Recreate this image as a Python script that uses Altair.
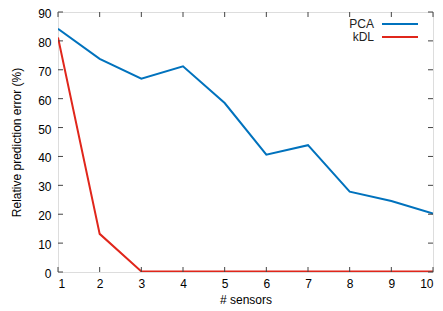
import altair as alt
import pandas as pd

sensors = [1, 2, 3, 4, 5, 6, 7, 8, 9, 10]
pca = [84.2, 73.8, 66.9, 71.2, 58.5, 40.6, 43.9, 27.8, 24.6, 20.2]
kdl = [81.2, 13.2, 0.2, 0.2, 0.2, 0.2, 0.2, 0.2, 0.2, 0.2]
series = ["PCA", "kDL"]
colors = ["#0072bd", "#e0261b"]
xticks = [1, 2, 3, 4, 5, 6, 7, 8, 9, 10]
yticks = [0, 10, 20, 30, 40, 50, 60, 70, 80, 90]

W, H = 375, 260
FONT = "Liberation Sans"

df = pd.DataFrame({
    "sensors": sensors * 2,
    "err": pca + kdl,
    "series": ["PCA"] * len(sensors) + ["kDL"] * len(sensors),
})

xs = alt.Scale(domain=[1, 10], nice=False)
ys = alt.Scale(domain=[0, 90], nice=False)
xax = alt.Axis(title="# sensors", values=xticks, tickSize=0, labelPadding=6,
               grid=False, domain=False, titlePadding=5, labelOverlap=False,
               titleFontWeight="normal", labelFontSize=12, titleFontSize=12)
yax = alt.Axis(title="Relative prediction error (%)", values=yticks, tickSize=0,
               labelPadding=7, grid=False, domain=False, titlePadding=14,
               labelOverlap=False, titleFontWeight="normal", labelOffset=1.5,
               labelFontSize=12, titleFontSize=12)

lines = alt.Chart(df).mark_line(strokeWidth=2, clip=True).encode(
    x=alt.X("sensors:Q", scale=xs, axis=xax),
    y=alt.Y("err:Q", scale=ys, axis=yax),
    color=alt.Color("series:N", scale=alt.Scale(domain=series, range=colors), legend=None),
)

xt = pd.DataFrame({"t": xticks})
yt = pd.DataFrame({"t": yticks})
tick_style = dict(color="#444", strokeWidth=1)
xb = alt.Chart(xt).mark_rule(**tick_style).encode(x=alt.X("t:Q", scale=xs, axis=xax), y=alt.value(H), y2=alt.value(H - 5))
xtop = alt.Chart(xt).mark_rule(**tick_style).encode(x=alt.X("t:Q", scale=xs, axis=xax), y=alt.value(0), y2=alt.value(5))
yl = alt.Chart(yt).mark_rule(**tick_style).encode(y=alt.Y("t:Q", scale=ys, axis=yax), x=alt.value(0), x2=alt.value(5))
yr = alt.Chart(yt).mark_rule(**tick_style).encode(y=alt.Y("t:Q", scale=ys, axis=yax), x=alt.value(W), x2=alt.value(W - 5))

legend_layers = []
for i, (name, col) in enumerate(zip(series, colors)):
    d = pd.DataFrame({"series": [name]})
    ypos = 12 + 13 * i
    legend_layers.append(
        alt.Chart(d).mark_text(align="right", baseline="middle", font=FONT, fontSize=12, color="#222")
        .encode(text="series:N", x=alt.value(316), y=alt.value(ypos))
    )
    legend_layers.append(
        alt.Chart(d).mark_rule(strokeWidth=2, color=col)
        .encode(x=alt.value(324), x2=alt.value(360), y=alt.value(ypos))
    )

chart = alt.layer(lines, xb, xtop, yl, yr, *legend_layers).properties(
    width=W, height=H,
    autosize=alt.AutoSizeParams(type="none"),
    padding={"left": 50, "top": 4, "right": 2, "bottom": 38},
).configure_view(stroke="#333", strokeWidth=1).configure_axis(
    labelFont=FONT, titleFont=FONT,
    labelColor="#222", titleColor="#222",
).configure(background="white")

chart.save("out.html", embed_options={"renderer": "svg", "actions": False})
